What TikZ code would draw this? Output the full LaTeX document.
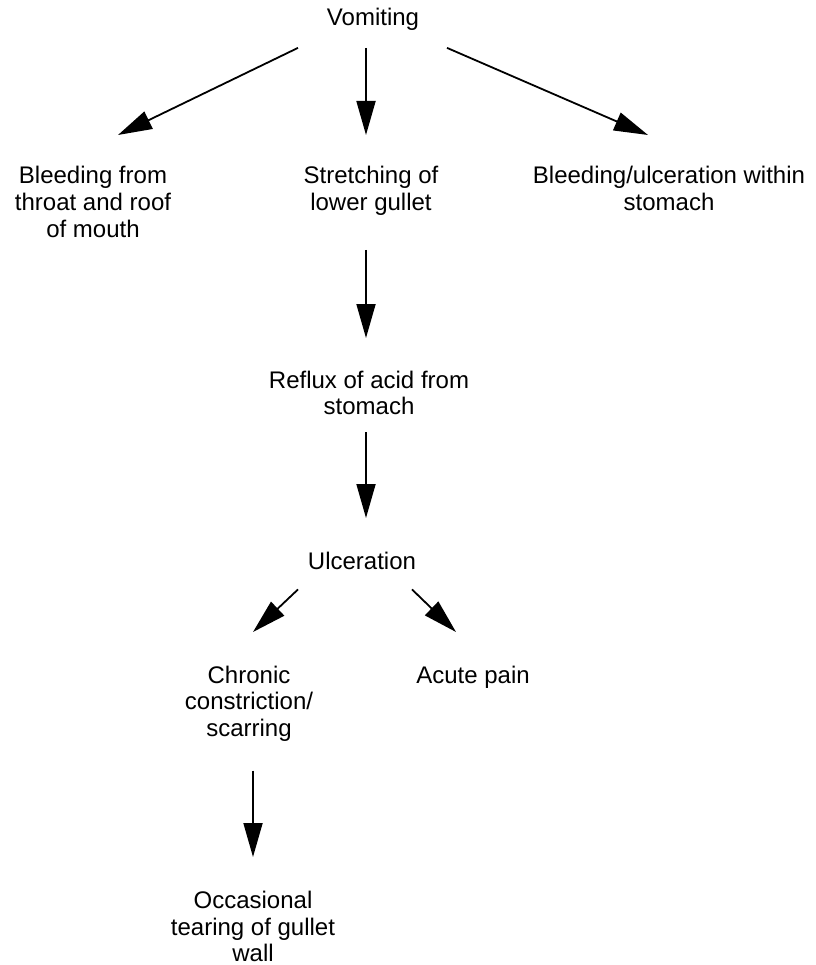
\documentclass[tikz,border=0pt]{standalone}
\usepackage{fontspec}
\setmainfont{Liberation Sans}
\usepackage{tikz}
\usetikzlibrary{positioning}
\usetikzlibrary{arrows.meta}

\begin{document}
\begin{tikzpicture}[x=1pt,y=-1pt,line width=1.8pt,>={Triangle[length=34pt,width=19pt]},
   every node/.style={align=center,inner sep=0pt,anchor=north,font=\fontsize{24}{26.7}\selectfont}]
   \useasboundingbox (0,0) rectangle (815,965);
   \node (t_vom)     at (373,7.7)   {Vomiting};
   \node (t_bleed)   at (93,165.5)  {Bleeding from\\throat and roof\\of mouth};
   \node (t_stretch) at (371,165.5) {Stretching of\\lower gullet};
   \node (t_stom)    at (669,165.5) {Bleeding/ulceration within\\stomach};
   \node (t_reflux)  at (369,370)   {Reflux of acid from\\stomach};
   \node (t_ulc)     at (362,551)   {Ulceration};
   \node (t_chron)   at (249,665)   {Chronic\\constriction/\\scarring};
   \node (t_acute)   at (473,665)   {Acute pain};
   \node (t_tear)    at (253,890)   {Occasional\\tearing of gullet\\wall};
    \path[->] 
    ([xshift=-75pt,yshift=-16pt]t_vom.south) edge ([xshift=25pt,yshift=30.5pt]t_bleed.north)
    ([xshift=-7pt,yshift=-16pt]t_vom.south) edge ([xshift=-5pt,yshift=30.5pt]t_stretch.north)
    ([xshift=74pt,yshift=-16pt]t_vom.south) edge ([xshift=-21pt,yshift=30.5pt]t_stom.north)
    ([xshift=-5pt,yshift=-33.5pt]t_stretch.south) edge ([xshift=-3pt,yshift=32pt]t_reflux.north)
    ([xshift=-3pt,yshift=-16pt]t_reflux.south) edge ([xshift=4pt,yshift=33pt]t_ulc.north)
    ([xshift=-64pt,yshift=-19pt]t_ulc.south) edge ([xshift=4pt,yshift=33pt]t_chron.north)
    ([xshift=50pt,yshift=-19pt]t_ulc.south) edge ([xshift=-17pt,yshift=33pt]t_acute.north)
    ([xshift=4pt,yshift=-28pt]t_chron.south) edge ([xshift=0pt,yshift=33pt]t_tear.north);
\end{tikzpicture}
\end{document}
